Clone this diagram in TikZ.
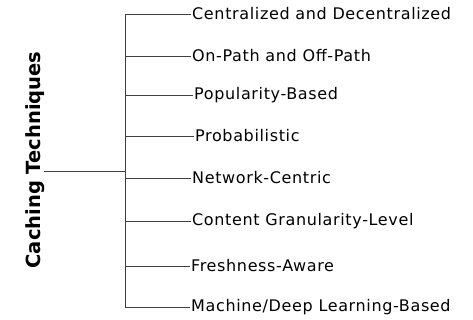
\documentclass[tikz,border=0pt]{standalone}
\usepackage{fontspec}
\setmainfont{DejaVu Sans}
\begin{document}
\begin{tikzpicture}[
        x=1pt, y=-1pt,
        branch/.style={anchor=west, inner sep=1pt, font=\fontsize{16}{19}\selectfont\addfontfeature{LetterSpace=4}},
        title/.style={rotate=90, inner sep=0pt, font=\bfseries\fontsize{19.5}{23}\selectfont},
        link/.style={draw=black!75, line width=0.9pt}
    ]
        \useasboundingbox (0,0) rectangle (473,320);

        \node (root) at (35,160) [title] {Caching Techniques};
        \coordinate (rootend) at (44,171);
        \coordinate (mid) at (125,171);

        \coordinate (t1) at (125,14);
        \coordinate (t2) at (125,56);
        \coordinate (t3) at (125,95);
        \coordinate (t4) at (125,136);
        \coordinate (t5) at (125,178);
        \coordinate (t6) at (125,221);
        \coordinate (t7) at (125,266);
        \coordinate (t8) at (125,307);

        \node (central) at (191,14) [branch] {Centralized and Decentralized};
        \node (onpath) at (191,56) [branch] {On-Path and Off-Path};
        \node (popular) at (193,95) [branch] {Popularity-Based};
        \node (prob) at (194,136) [branch] {Probabilistic};
        \node (netcentric) at (191,178) [branch] {Network-Centric};
        \node (granular) at (191,221) [branch] {Content Granularity-Level};
        \node (fresh) at (190,266) [branch] {Freshness-Aware};
        \node (learning) at (190,307) [branch] {Machine/Deep Learning-Based};

        \draw[link] (rootend) -- (mid);
        \draw[link] (t1) -- (t8);

        \draw[link] (t1) -- (central.west);
        \draw[link] (t2) -- (onpath.west);
        \draw[link] (t3) -- (popular.west);
        \draw[link] (t4) -- (prob.west);
        \draw[link] (t5) -- (netcentric.west);
        \draw[link] (t6) -- (granular.west);
        \draw[link] (t7) -- (fresh.west);
        \draw[link] (t8) -- (learning.west);
    \end{tikzpicture}
\end{document}
